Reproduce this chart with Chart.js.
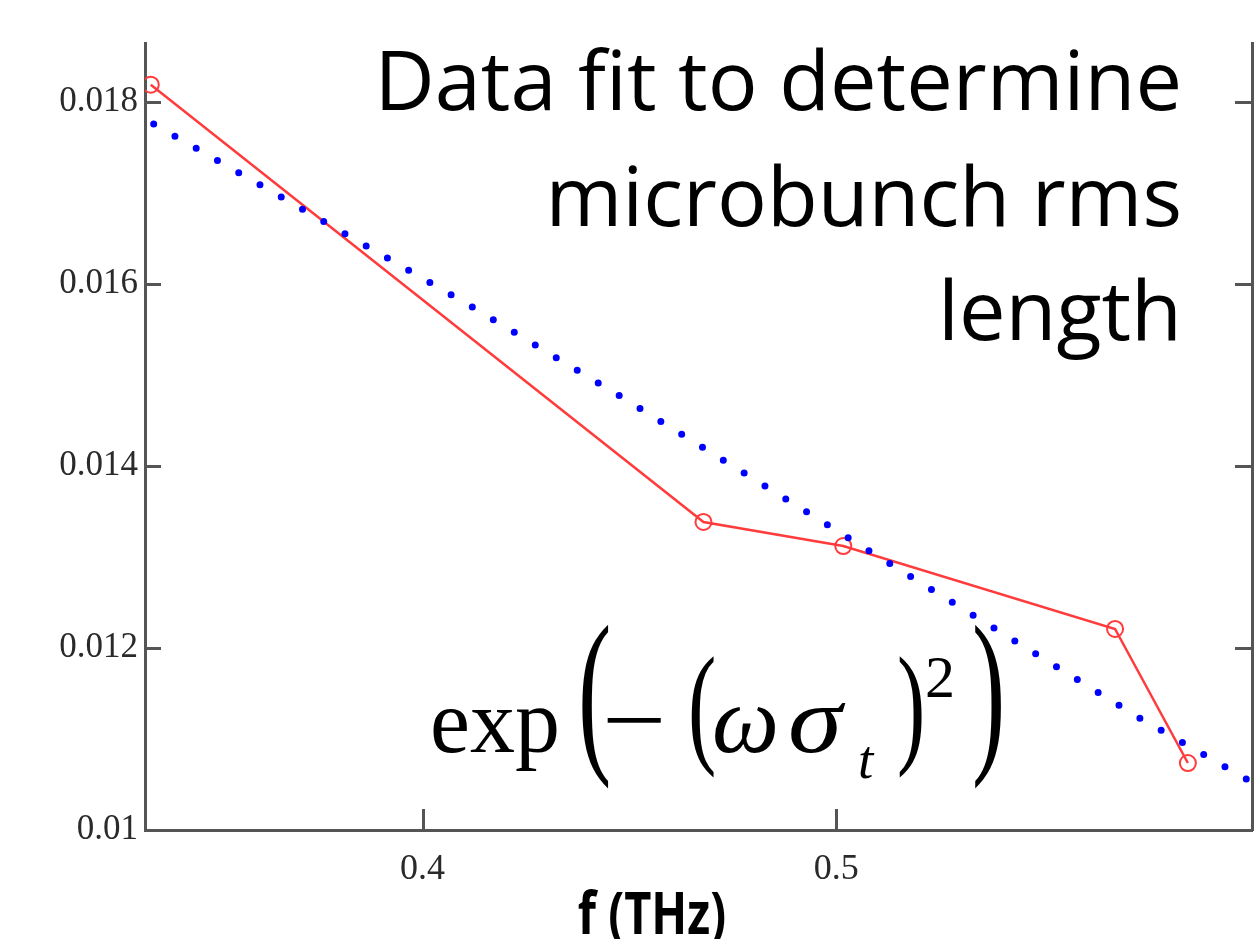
<!DOCTYPE html>
<html>
<head>
<meta charset="utf-8">
<title>Data fit to determine microbunch rms length</title>
<script src="https://cdn.jsdelivr.net/npm/chart.js@4.4.1/dist/chart.umd.min.js"></script>
<style>
  html, body { margin: 0; padding: 0; background: #fff; }
  #fitChart { display: block; }
</style>
</head>
<body>
<canvas id="fitChart" width="1255" height="939"></canvas>
<script>
// measured points (red circles)
const measFreq = [0.3343, 0.4679, 0.5017, 0.5674, 0.5850];
const measVal  = [0.01819, 0.013385, 0.01312, 0.012209, 0.010736];

// fitted curve (blue dots)
const fitFreq = [0.3329, 0.3713, 0.4116, 0.4469, 0.4824, 0.5123, 0.5428, 0.5729, 0.5983, 0.6005];
const fitVal  = [0.017813, 0.016813, 0.015758, 0.014791, 0.013791, 0.012945, 0.012088, 0.011242, 0.010582, 0.010527];

const xTicks = [0.4, 0.5];
const yTicks = [0.01, 0.012, 0.014, 0.016, 0.018];
const xLimits = [0.3329, 0.6005];
const yLimits = [0.01, 0.018648];

const noteLines = ["Data fit to determine", "microbunch rms", "length"];
const xLabel = "f (THz)";

const axisColor = "#555";

// stretched text helper (the pasted plot is a bit taller than wide)
function drawText(ctx, txt, x, y, font, sy, align, sx) {
    ctx.save();
    ctx.translate(x, y);
    ctx.scale(sx || 1, sy || 1);
    ctx.font = font;
    ctx.textAlign = align || "left";
    ctx.textBaseline = "alphabetic";
    ctx.fillText(txt, 0, 0);
    ctx.restore();
}

const overlayPlugin = {
    id: "overlay",
    afterDraw(chart) {
        const ctx = chart.ctx;
        const area = chart.chartArea;
        const xs = chart.scales.x;
        const ys = chart.scales.y;

        // inward tick marks
        ctx.save();
        ctx.strokeStyle = axisColor;
        ctx.lineWidth = 3;
        ctx.beginPath();
        yTicks.slice(1).forEach(v => {
            const py = Math.round(ys.getPixelForValue(v)) + 0.5;
            ctx.moveTo(area.left, py);
            ctx.lineTo(area.left + 16, py);
            ctx.moveTo(area.right, py);
            ctx.lineTo(area.right - 17, py);
        });
        xTicks.forEach(v => {
            const px = Math.round(xs.getPixelForValue(v)) + 0.5;
            ctx.moveTo(px, area.bottom);
            ctx.lineTo(px, area.bottom - 21);
        });
        ctx.stroke();
        ctx.restore();

        ctx.save();
        ctx.fillStyle = "#000";

        // annotation in the top right
        const noteBase = [110, 226, 340];
        noteLines.forEach((t, i) => {
            drawText(ctx, t, 1182, noteBase[i], '400 83px "Open Sans"', 1, "right");
        });

        // axis label
        drawText(ctx, xLabel, 652, 934, '700 47px "Open Sans"', 1.25, "center");

        // formula exp(-(w sigma_t)^2)
        const serif = '"Liberation Serif", "Times New Roman", serif';
        drawText(ctx, "exp", 430, 752, "90px " + serif);
        drawText(ctx, "(", 578, 750, "100px " + serif, 1.8);
        drawText(ctx, "\u2212", 602, 752, "95px " + serif, 1, "left", 1.2);
        drawText(ctx, "(", 688, 749, "100px " + serif, 1.33, "left", 0.85);
        drawText(ctx, "\u03c9", 712, 752, "italic 95px " + serif);
        drawText(ctx, "\u03c3", 788, 752, "italic 95px " + serif, 1, "left", 1.15);
        drawText(ctx, "t", 858, 778, "italic 55px " + serif);
        drawText(ctx, ")", 897, 749, "100px " + serif, 1.33, "left", 0.85);
        drawText(ctx, "2", 925, 697, "60px " + serif);
        drawText(ctx, ")", 972, 750, "100px " + serif, 1.8);
        ctx.restore();
    }
};

const ctx = document.getElementById("fitChart").getContext("2d");
const chart = new Chart(ctx, {
    type: "scatter",
    data: {
        datasets: [{
            label: "fit",
            data: fitFreq.map((f, i) => ({ x: f, y: fitVal[i] })),
            showLine: true,
            borderColor: "#0000ff",
            borderWidth: 7,
            borderDash: [0, 24.5],
            borderDashOffset: -10,
            borderCapStyle: "round",
            pointRadius: 0,
            tension: 0
        }, {
            label: "data",
            data: measFreq.map((f, i) => ({ x: f, y: measVal[i] })),
            showLine: true,
            borderColor: "#ff3b3b",
            borderWidth: 2.5,
            pointRadius: 8,
            pointBorderWidth: 2,
            pointBorderColor: "#ff3b3b",
            pointBackgroundColor: "rgba(255,255,255,0)",
            tension: 0
        }]
    },
    options: {
        responsive: false,
        animation: false,
        layout: { autoPadding: false, padding: { top: 43, left: 0, right: 0, bottom: 0 } },
        plugins: {
            legend: { display: false },
            tooltip: { enabled: false }
        },
        scales: {
            x: {
                type: "linear",
                min: xLimits[0],
                max: xLimits[1],
                afterBuildTicks: s => { s.ticks = xTicks.map(v => ({ value: v })); },
                afterFit: s => { s.height = 109; s.paddingLeft = 0; s.paddingRight = 0; },
                grid: { drawOnChartArea: false, drawTicks: false },
                border: { display: true, color: axisColor, width: 3 },
                ticks: {
                    padding: 18,
                    color: "#2a2a2a",
                    font: { family: '"Liberation Serif", serif', size: 36 },
                    callback: v => String(v)
                }
            },
            y: {
                type: "linear",
                min: yLimits[0],
                max: yLimits[1],
                afterBuildTicks: s => { s.ticks = yTicks.map(v => ({ value: v })); },
                afterFit: s => { s.width = 145; s.paddingTop = 0; s.paddingBottom = 0; },
                grid: { drawOnChartArea: false, drawTicks: false },
                border: { display: true, color: axisColor, width: 3 },
                ticks: {
                    padding: 7,
                    color: "#2a2a2a",
                    font: { family: '"Liberation Serif", serif', size: 35 },
                    callback: v => String(v)
                }
            },
            y2: {
                type: "linear",
                position: "right",
                min: yLimits[0],
                max: yLimits[1],
                afterFit: s => { s.width = 3; s.paddingTop = 0; s.paddingBottom = 0; },
                grid: { drawOnChartArea: false, drawTicks: false },
                border: { display: true, color: axisColor, width: 3 },
                ticks: { display: false }
            }
        }
    },
    plugins: [overlayPlugin]
});
</script>
</body>
</html>
